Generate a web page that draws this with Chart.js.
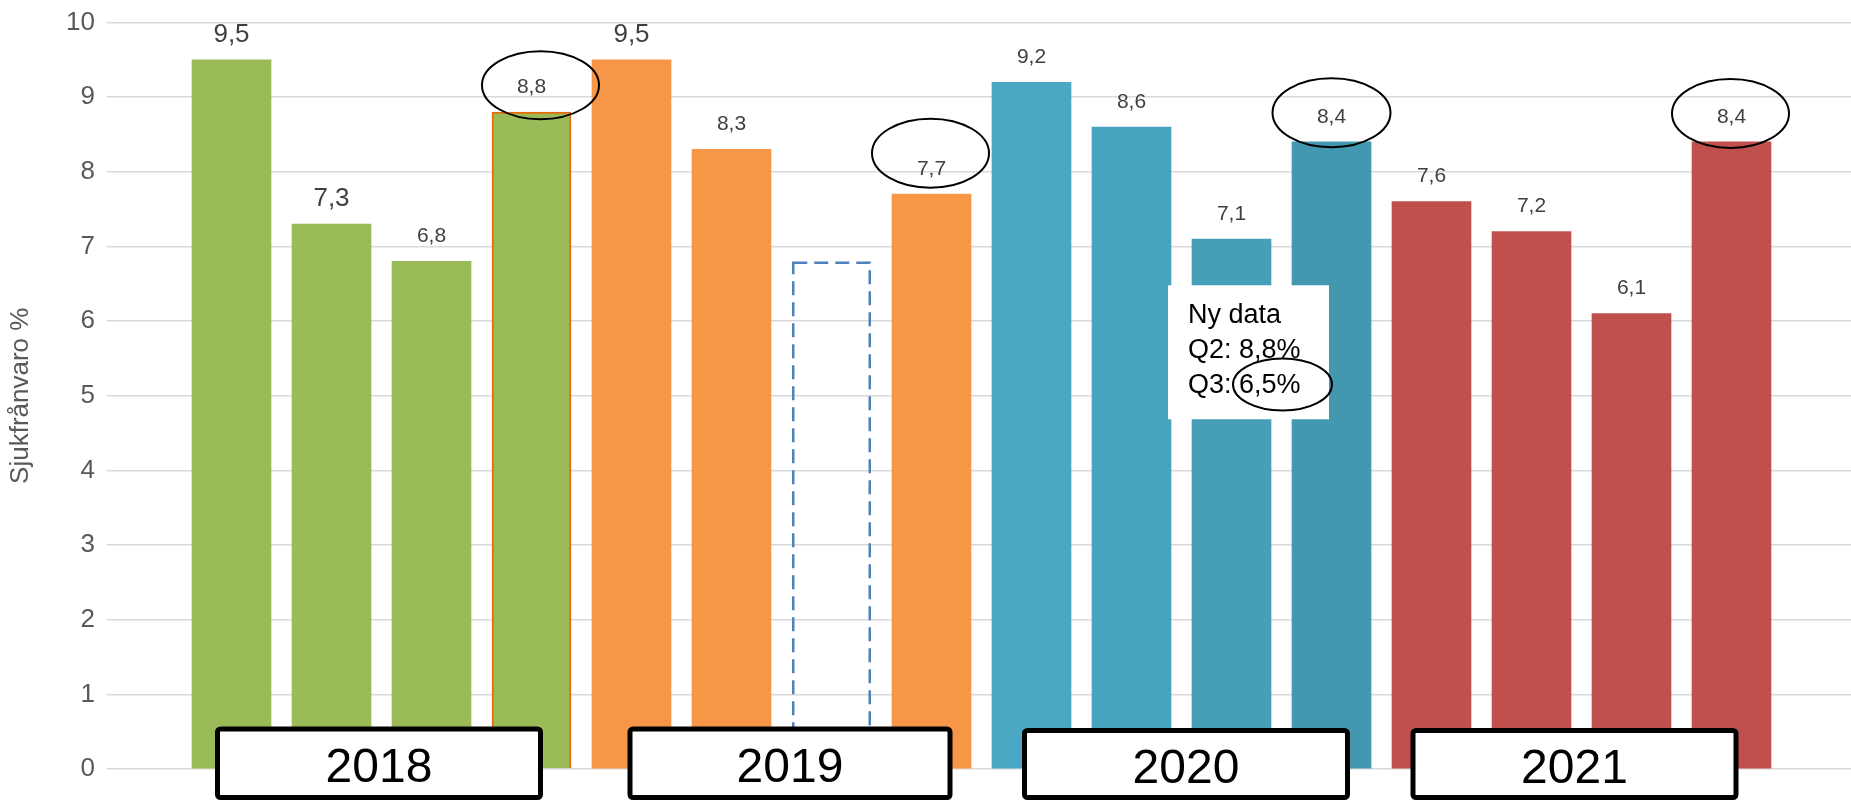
<!DOCTYPE html>
<html lang="sv">
<head>
<meta charset="utf-8">
<title>Sjukfrånvaro per kvartal 2018–2021</title>
<script src="https://cdn.jsdelivr.net/npm/chart.js@4.4.1/dist/chart.umd.min.js"></script>
<style>
  html, body { margin: 0; padding: 0; background: #fff; }
  #wrap { width: 1851px; height: 803px; }
</style>
</head>
<body>
<div id="wrap"><canvas id="chart" width="1851" height="803"></canvas></div>
<script>
/* Sjukfrånvaro per kvartal, 2018–2021 */

// --- data ---
const quarters = [
  '2018 Q1', '2018 Q2', '2018 Q3', '2018 Q4',
  '2019 Q1', '2019 Q2', '2019 Q3', '2019 Q4',
  '2020 Q1', '2020 Q2', '2020 Q3', '2020 Q4',
  '2021 Q1', '2021 Q2', '2021 Q3', '2021 Q4'
];
const values = [
  9.5, 7.3, 6.8, 8.8,
  9.5, 8.3, null, 7.7,
  9.2, 8.6, 7.1, 8.4,
  7.6, 7.2, 6.1, 8.4
];
// 2019 Q3 only as a dashed outline
const dashedValues = [
  null, null, null, null,
  null, null, 6.8, null,
  null, null, null, null,
  null, null, null, null
];
const years = ['2018', '2019', '2020', '2021'];
const yTicks = [0, 1, 2, 3, 4, 5, 6, 7, 8, 9, 10];
const noteLines = ['Ny data', 'Q2: 8,8%', 'Q3: 6,5%'];

// --- style ---
const FONT = "'Liberation Sans', Arial, Helvetica, sans-serif";
const barColors = [
  '#9bbb59', '#9bbb59', '#9bbb59', '#9bbb59',
  '#f79646', '#f79646', '#f79646', '#f79646',
  '#4aa8c4', '#47a4be', '#459fb9', '#4398b0',
  '#c0504d', '#c0504d', '#c0504d', '#c0504d'
];
const bigLabels = [0, 1, 4];

// annotation placement in scale units (x = bar index, y = value)
const ellipseSpots = [
  { x: 3.09, y: 9.16, rx: 58.5, ry: 34 },
  { x: 6.99, y: 8.25, rx: 58.5, ry: 34.5 },
  { x: 11.0, y: 8.79, rx: 59, ry: 34.5 },
  { x: 14.99, y: 8.78, rx: 58.5, ry: 34.5 }
];
const noteBox = { x0: 9.365, x1: 10.975, y0: 6.48, y1: 4.685, textX: 9.565, lineY: [6.08, 5.61, 5.14] };
const noteEllipse = { x: 10.51, y: 5.15, rx: 49.5, ry: 26 };
const yearBoxes = [
  { x0: -0.165, x1: 3.115, top: 0.57 },
  { x0: 3.96, x1: 7.21, top: 0.57 },
  { x0: 7.905, x1: 11.185, top: 0.55 },
  { x0: 11.79, x1: 15.07, top: 0.55 }
];

const fmt = (v) => v.toFixed(1).replace('.', ',');

const overlay = {
  id: 'overlay',
  afterDatasetsDraw(chart) {
    const { ctx, scales: { x, y } } = chart;

    // dashed outline bar
    ctx.save();
    chart.getDatasetMeta(1).data.forEach((bar, i) => {
      if (dashedValues[i] == null) return;
      const p = bar.getProps(['x', 'y', 'base', 'width'], true);
      ctx.setLineDash([14, 7]);
      ctx.lineWidth = 2.5;
      ctx.strokeStyle = '#4f81bd';
      ctx.strokeRect(p.x - p.width / 2 + 1.25, p.y + 1.25, p.width - 2.5, p.base - p.y);
    });
    ctx.restore();

    // value labels
    ctx.save();
    ctx.textAlign = 'center';
    ctx.textBaseline = 'middle';
    ctx.fillStyle = '#404040';
    chart.getDatasetMeta(0).data.forEach((bar, i) => {
      if (values[i] == null) return;
      const size = bigLabels.includes(i) ? 26 : 21;
      ctx.font = `${size}px ${FONT}`;
      ctx.fillText(fmt(values[i]), bar.x, bar.y - 25);
    });
    ctx.restore();

    // "Ny data" note
    ctx.save();
    const bx0 = x.getPixelForValue(noteBox.x0), bx1 = x.getPixelForValue(noteBox.x1);
    const by0 = y.getPixelForValue(noteBox.y0), by1 = y.getPixelForValue(noteBox.y1);
    ctx.fillStyle = '#fff';
    ctx.fillRect(bx0, by0, bx1 - bx0, by1 - by0);
    ctx.fillStyle = '#000';
    ctx.font = `27px ${FONT}`;
    ctx.textAlign = 'left';
    ctx.textBaseline = 'middle';
    noteLines.forEach((t, k) => {
      ctx.fillText(t, x.getPixelForValue(noteBox.textX), y.getPixelForValue(noteBox.lineY[k]));
    });
    ctx.restore();

    // ellipses
    ctx.save();
    ctx.strokeStyle = '#000';
    ctx.lineWidth = 2;
    [...ellipseSpots, noteEllipse].forEach(e => {
      ctx.beginPath();
      ctx.ellipse(x.getPixelForValue(e.x), y.getPixelForValue(e.y), e.rx, e.ry, 0, 0, Math.PI * 2);
      ctx.stroke();
    });
    ctx.restore();

    // year boxes
    ctx.save();
    years.forEach((yr, k) => {
      const b = yearBoxes[k];
      const l = x.getPixelForValue(b.x0), r = x.getPixelForValue(b.x1);
      const t = y.getPixelForValue(b.top);
      const bottom = chart.height - 3;
      ctx.beginPath();
      ctx.roundRect(l + 2.5, t + 2.5, r - l - 5, bottom - t - 5, 3);
      ctx.fillStyle = '#fff';
      ctx.fill();
      ctx.lineWidth = 5;
      ctx.strokeStyle = '#000';
      ctx.stroke();
      ctx.fillStyle = '#000';
      ctx.font = `48px ${FONT}`;
      ctx.textAlign = 'center';
      ctx.textBaseline = 'middle';
      ctx.fillText(yr, (l + r) / 2, t + 42);
    });
    ctx.restore();
  }
};

new Chart(document.getElementById('chart'), {
  type: 'bar',
  data: {
    labels: quarters,
    datasets: [
      {
        label: 'Sjukfrånvaro',
        data: values.map((v, i) => ({ x: i, y: v })),
        backgroundColor: barColors,
        borderColor: values.map((v, i) => i === 3 ? '#e46c0a' : 'rgba(0,0,0,0)'),
        borderWidth: values.map((v, i) => i === 3 ? 2 : 0),
        barThickness: 79,
        grouped: false
      },
      {
        label: 'Tidigare data',
        data: dashedValues.map((v, i) => ({ x: i, y: v })),
        backgroundColor: 'rgba(0,0,0,0)',
        borderWidth: 0,
        barThickness: 79,
        grouped: false
      }
    ]
  },
  options: {
    responsive: false,
    animation: false,
    devicePixelRatio: 1,
    layout: { padding: { top: 22.5, right: 0, bottom: 34, left: 0 } },
    plugins: {
      legend: { display: false },
      tooltip: { enabled: false }
    },
    scales: {
      x: {
        type: 'linear',
        display: false,
        offset: false,
        min: -1.245,
        max: 16.195
      },
      y: {
        min: 0,
        max: 10,
        ticks: {
          stepSize: 1,
          color: '#595959',
          padding: 3,
          font: { family: FONT, size: 26 },
          callback: v => yTicks.includes(v) ? String(v) : ''
        },
        grid: {
          color: '#d9d9d9',
          lineWidth: 1.5,
          drawTicks: true,
          tickLength: 9,
          tickColor: 'rgba(0,0,0,0)'
        },
        border: { display: false },
        title: {
          display: true,
          text: 'Sjukfrånvaro %',
          color: '#595959',
          font: { family: FONT, size: 26 },
          padding: { top: 5, bottom: 0 }
        },
        afterFit: s => { s.width = 107; }
      }
    }
  },
  plugins: [overlay]
});
</script>
</body>
</html>
